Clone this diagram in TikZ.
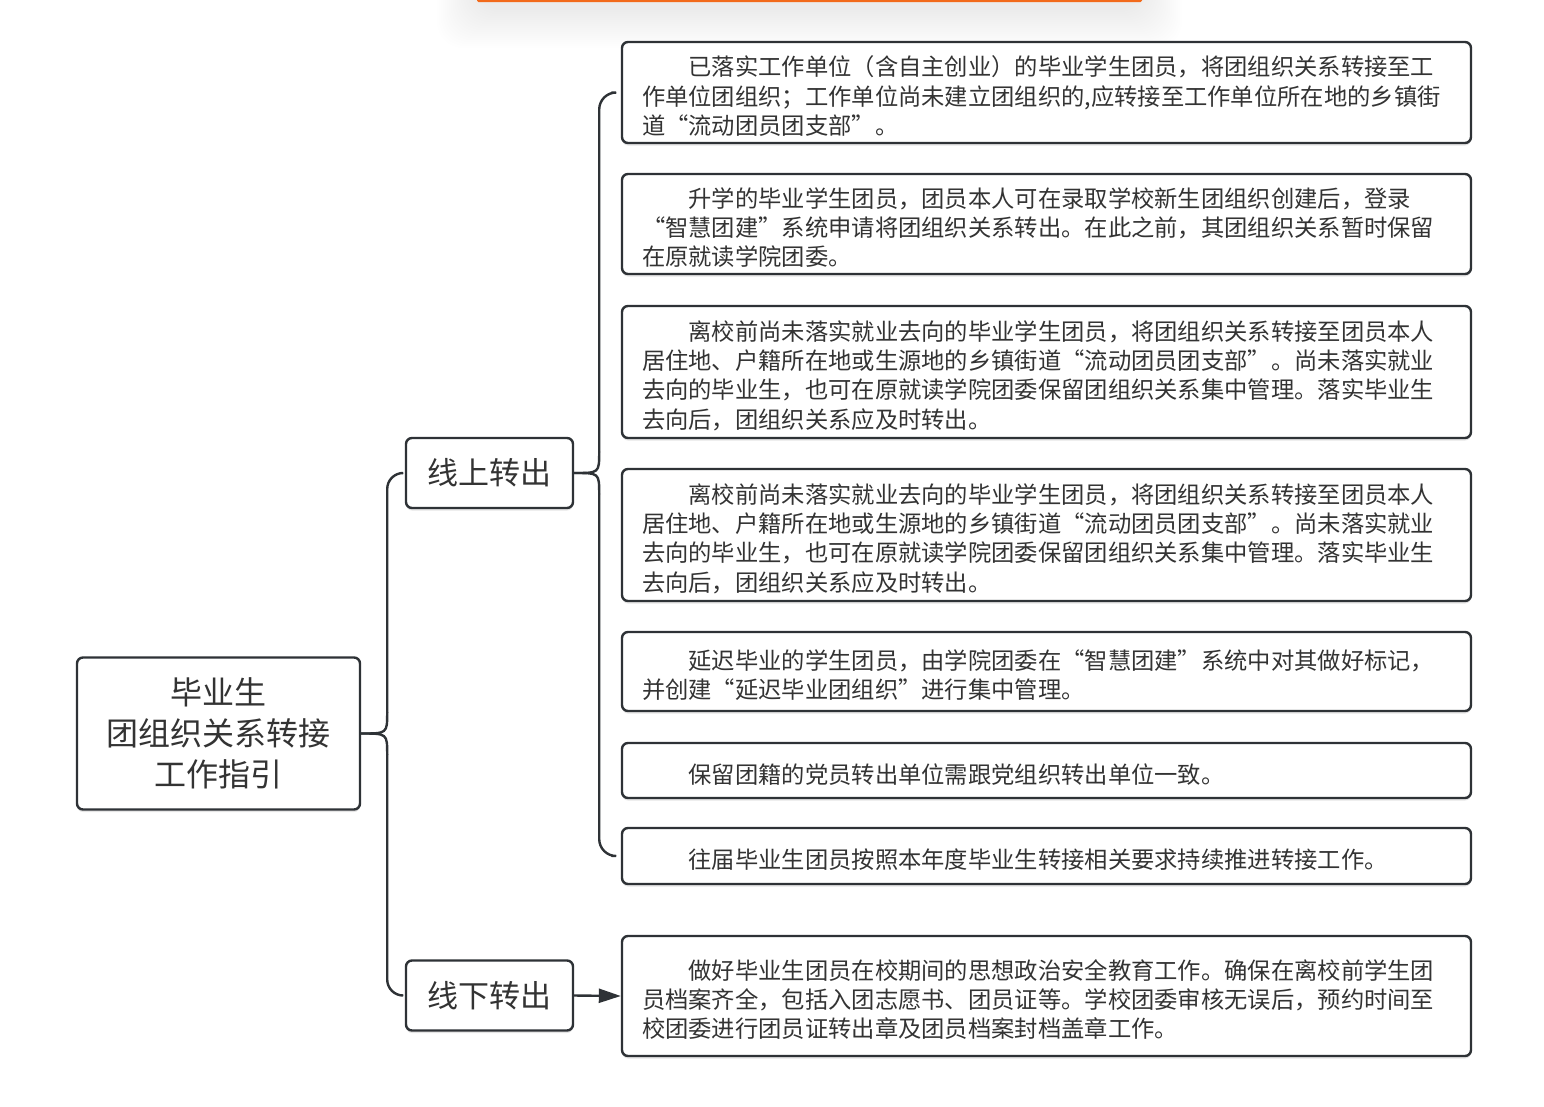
\documentclass[tikz,border=0pt]{standalone}
\usepackage{fontspec}
\setmainfont{Noto Sans CJK SC}
\usetikzlibrary{calc,arrows.meta,shadows}
\definecolor{txt}{HTML}{333333}
\definecolor{lin}{HTML}{2E3236}
\definecolor{orng}{HTML}{F26A1B}
\newcommand{\firstind}{\rule{0pt}{27pt}\hspace*{2em}}
\begin{document}
\begin{tikzpicture}[x=1pt,y=-1pt,
  box/.style={draw=lin, line width=2.4pt, rounded corners=6pt, text=txt, fill=white,
    drop shadow={shadow xshift=0pt, shadow yshift=-2.5pt, opacity=0.10, fill=black}},
  txtbox/.style={box, minimum width=849pt, text width=809pt, inner xsep=20pt, inner ysep=0pt,
    align=left, font=\fontsize{23.3}{29.4}\selectfont},
  topbox/.style={box, minimum width=167pt, minimum height=70pt, inner sep=0pt,
    font=\fontsize{31}{36}\selectfont},
  conn/.style={draw=lin, line width=2.4pt, line cap=round},
]
\useasboundingbox (0,0) rectangle (1544,1106);

% cut-off element at the top edge
\foreach \r in {2,4,...,40}
  \fill[black, opacity=0.0038, rounded corners=26pt] (477-\r,-30) rectangle (1142+\r,8+\r);
\fill[orng, rounded corners=1.5pt] (477,-3) rectangle (1142,2.2);

% nodes
\node[box, minimum width=283pt, minimum height=152pt, inner sep=0pt, align=center,
  font=\fontsize{32}{41}\selectfont] (root) at (218.5,733.5) {毕业生\\团组织关系转接\\工作指引};
\node[topbox] (on) at (489.5,473) {线上转出};
\node[topbox] (off) at (489.5,995.5) {线下转出};

\node[txtbox, minimum height=101pt] (r1) at (1046.5,92.5) {\firstind 已落实工作单位（含自主创业）的毕业学生团员，将团组织关系转接至工\\作单位团组织；工作单位尚未建立团组织的,应转接至工作单位所在地的乡镇街\\道“流动团员团支部”。};
\node[txtbox, minimum height=100pt] (r2) at (1046.5,224) {\firstind 升学的毕业学生团员，团员本人可在录取学校新生团组织创建后，登录\\“智慧团建”系统申请将团组织关系转出。在此之前，其团组织关系暂时保留\\在原就读学院团委。};
\node[txtbox, minimum height=132pt] (r3) at (1046.5,372) {\firstind 离校前尚未落实就业去向的毕业学生团员，将团组织关系转接至团员本人\\居住地、户籍所在地或生源地的乡镇街道“流动团员团支部”。尚未落实就业\\去向的毕业生，也可在原就读学院团委保留团组织关系集中管理。落实毕业生\\去向后，团组织关系应及时转出。};
\node[txtbox, minimum height=132pt] (r4) at (1046.5,535) {\firstind 离校前尚未落实就业去向的毕业学生团员，将团组织关系转接至团员本人\\居住地、户籍所在地或生源地的乡镇街道“流动团员团支部”。尚未落实就业\\去向的毕业生，也可在原就读学院团委保留团组织关系集中管理。落实毕业生\\去向后，团组织关系应及时转出。};
\node[txtbox, minimum height=79pt] (r5) at (1046.5,671.5) {\firstind 延迟毕业的学生团员，由学院团委在“智慧团建”系统中对其做好标记，\\并创建“延迟毕业团组织”进行集中管理。};
\node[txtbox, minimum height=55pt] (r6) at (1046.5,770.5) {\firstind 保留团籍的党员转出单位需跟党组织转出单位一致。};
\node[txtbox, minimum height=56pt] (r7) at (1046.5,856) {\firstind 往届毕业生团员按照本年度毕业生转接相关要求持续推进转接工作。};
\node[txtbox, minimum height=120pt] (r8) at (1046.5,996) {\firstind 做好毕业生团员在校期间的思想政治安全教育工作。确保在离校前学生团\\员档案齐全，包括入团志愿书、团员证等。学校团委审核无误后，预约时间至\\校团委进行团员证转出章及团员档案封档盖章工作。};

% brace from the root
\coordinate (b1u) at ($(root.east)+(26,-21)$);
\coordinate (b1d) at ($(root.east)+(26,21)$);
\draw[conn, rounded corners=16pt] ($(on.west)+(-4,0)$) -| (b1u);
\draw[conn] (b1u) .. controls ($(root.east)+(26,0)$) .. (root.east);
\draw[conn] (root.east) .. controls ($(root.east)+(26,0)$) .. (b1d);
\draw[conn, rounded corners=16pt] (b1d) |- ($(off.west)+(-4,0)$);

% brace from the online branch
\coordinate (b2u) at ($(on.east)+(25,-21)$);
\coordinate (b2d) at ($(on.east)+(25,21)$);
\draw[conn, rounded corners=17pt] ($(r1.west)+(-9,0)$) -| (b2u);
\draw[conn] (b2u) .. controls ($(on.east)+(25,0)$) .. (on.east);
\draw[conn] (on.east) .. controls ($(on.east)+(25,0)$) .. (b2d);
\draw[conn, rounded corners=17pt] (b2d) |- ($(r7.west)+(-9,0)$);

% arrow from the offline branch
\draw[conn, line cap=butt, -{Triangle[length=22pt,width=14pt]}] (off.east) -- (r8.west);
\end{tikzpicture}
\end{document}
